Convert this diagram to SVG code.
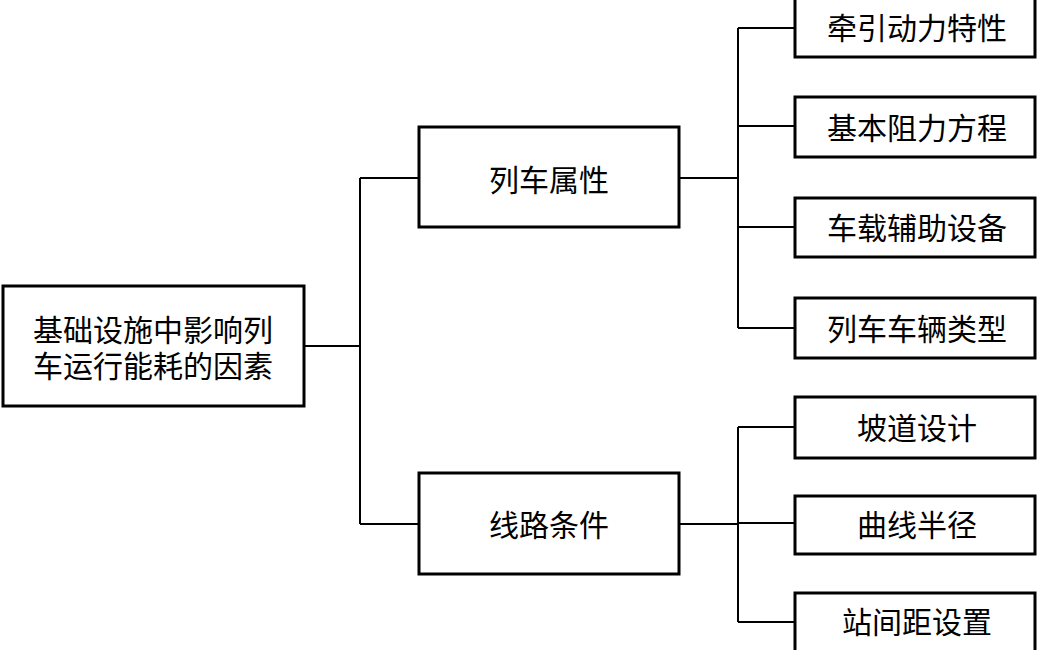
<svg xmlns="http://www.w3.org/2000/svg" width="1040" height="650" viewBox="0 0 1040 650">
<style>
.box{fill:#fff;stroke:#000;stroke-width:3}
.t{font-family:"Liberation Serif","Noto Sans CJK SC",serif;font-size:30px;fill:#000;text-anchor:middle;dominant-baseline:central}
.c{fill:none;stroke:#000;stroke-width:2}
</style>
<rect width="1040" height="650" fill="#fff"/>
<g id="connectors">
<path class="c" d="M304 346H360M360 178V524M360 178H419M360 524H419"/>
<path class="c" d="M679 178H738M738 28V328M738 28H794M738 126H794M738 227H794M738 328H794"/>
<path class="c" d="M679 524H738M738 427V622M738 427H794M738 523H794M738 622H794"/>
</g>
<g id="root"><rect class="box" x="3" y="286" width="301" height="120"/><text class="t" x="153" y="330">基础设施中影响列</text><text class="t" x="153" y="366">车运行能耗的因素</text></g>
<g id="train"><rect class="box" x="419" y="127" width="260" height="100"/><text class="t" x="549" y="180">列车属性</text></g>
<g id="line"><rect class="box" x="419" y="473" width="260" height="101"/><text class="t" x="549" y="525">线路条件</text></g>
<g id="n1"><rect class="box" x="795" y="-3" width="240" height="60"/><text class="t" x="917" y="28">牵引动力特性</text></g>
<g id="n2"><rect class="box" x="795" y="97" width="240" height="60"/><text class="t" x="917" y="128">基本阻力方程</text></g>
<g id="n3"><rect class="box" x="795" y="198" width="240" height="59"/><text class="t" x="917" y="228">车载辅助设备</text></g>
<g id="n4"><rect class="box" x="795" y="298" width="240" height="60"/><text class="t" x="917" y="329">列车车辆类型</text></g>
<g id="n5"><rect class="box" x="795" y="397" width="240" height="61"/><text class="t" x="917" y="428">坡道设计</text></g>
<g id="n6"><rect class="box" x="795" y="496" width="240" height="58"/><text class="t" x="917" y="525">曲线半径</text></g>
<g id="n7"><rect class="box" x="795" y="593" width="240" height="62"/><text class="t" x="917" y="622">站间距设置</text></g>
</svg>
